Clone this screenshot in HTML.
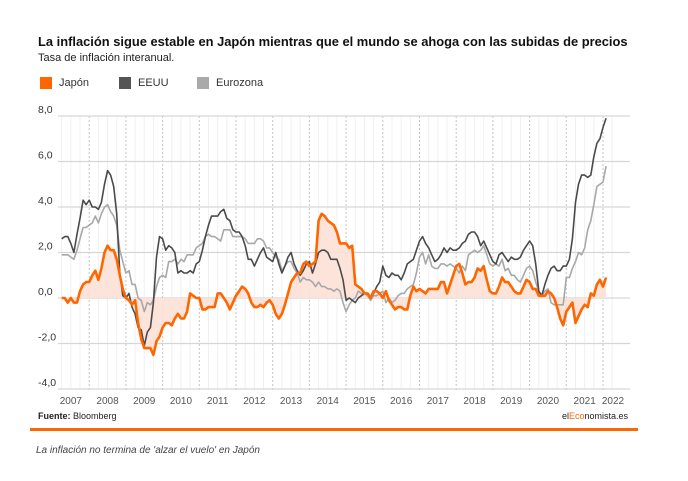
<!DOCTYPE html>
<html><head><meta charset="utf-8">
<style>
body{margin:0;background:#fff;font-family:"Liberation Sans",sans-serif;}
#wrap{position:relative;width:688px;height:481px;overflow:hidden;}
.t{position:absolute;white-space:nowrap;}
</style></head>
<body>
<div id="wrap">
<div class="t" style="left:38px;top:34px;font-size:12.9px;font-weight:bold;color:#111;">La inflación sigue estable en Japón mientras que el mundo se ahoga con las subidas de precios</div>
<div class="t" style="left:38px;top:52px;font-size:11px;color:#222;">Tasa de inflación interanual.</div>
<div>
<div class="t" style="left:40px;top:77px;width:12px;height:12px;background:#ff6600;"></div>
<div class="t" style="left:59px;top:77px;font-size:11px;color:#333;">Japón</div>
<div class="t" style="left:119px;top:77px;width:12px;height:12px;background:#555;"></div>
<div class="t" style="left:138px;top:77px;font-size:11px;color:#333;">EEUU</div>
<div class="t" style="left:197px;top:77px;width:12px;height:12px;background:#aaa;"></div>
<div class="t" style="left:216px;top:77px;font-size:11px;color:#333;">Eurozona</div>
</div>
<svg id="chart" width="688" height="481" style="position:absolute;left:0;top:0"></svg>
<div class="t" style="left:38px;top:411px;font-size:9px;color:#222;"><b>Fuente:</b> Bloomberg</div>
<div class="t" style="right:60px;top:411px;font-size:9px;color:#222;">el<span style="color:#ff6600">Eco</span>nomista.es</div>
<div class="t" style="left:30px;top:428px;width:608px;height:3px;background:#ff6600;"></div>
<div class="t" style="left:36px;top:445px;font-size:10px;font-style:italic;color:#444;">La inflación no termina de 'alzar el vuelo' en Japón</div>
</div>
<script>
const yTicks=[8,6,4,2,0,-2,-4];
const yTickLabels=["8,0","6,0","4,0","2,0","0,0","-2,0","-4,0"];
const years=[2007,2008,2009,2010,2011,2012,2013,2014,2015,2016,2017,2018,2019,2020,2021,2022];
const startMonth=3; // Apr 2007
const japon=[0.0,0.0,-0.2,0.0,-0.2,-0.2,0.3,0.6,0.7,
0.7,1.0,1.2,0.8,1.3,2.0,2.3,2.1,2.1,1.7,1.0,0.4,
0.0,-0.1,-0.3,-0.1,-1.1,-1.8,-2.2,-2.2,-2.2,-2.5,-1.9,-1.7,
-1.3,-1.1,-1.1,-1.2,-0.9,-0.7,-0.9,-0.9,-0.6,0.2,0.1,0.0,
0.0,-0.5,-0.5,-0.4,-0.4,-0.4,0.2,0.2,0.0,-0.2,-0.5,-0.2,
0.1,0.3,0.5,0.4,0.2,-0.2,-0.4,-0.4,-0.3,-0.4,-0.2,-0.1,
-0.3,-0.7,-0.9,-0.7,-0.3,0.2,0.7,0.9,1.1,1.1,1.5,1.6,
1.4,1.5,1.6,3.4,3.7,3.6,3.4,3.3,3.2,2.9,2.4,2.4,
2.4,2.2,2.3,0.6,0.5,0.4,0.2,0.2,0.0,0.3,0.3,0.2,
0.0,0.3,-0.1,-0.3,-0.5,-0.4,-0.4,-0.5,-0.5,0.1,0.5,0.3,
0.4,0.3,0.2,0.4,0.4,0.4,0.4,0.7,0.7,0.2,0.6,1.0,
1.4,1.5,1.1,0.6,0.7,0.7,0.9,1.3,1.2,1.4,0.8,0.3,
0.2,0.2,0.5,0.9,0.7,0.7,0.5,0.3,0.2,0.2,0.5,0.8,
0.7,0.4,0.4,0.1,0.1,0.1,0.3,0.2,0.0,-0.4,-0.9,-1.2,
-0.6,-0.4,-0.2,-1.1,-0.8,-0.5,-0.3,-0.4,0.2,0.1,0.6,0.8,
0.5,0.9];
const eeuu=[2.6,2.7,2.7,2.4,2.0,2.8,3.5,4.3,4.1,
4.3,4.0,4.0,3.9,4.2,5.0,5.6,5.4,4.9,3.7,1.1,0.1,
0.0,0.2,-0.4,-0.7,-1.3,-1.4,-2.1,-1.5,-1.3,-0.2,1.8,2.7,
2.6,2.1,2.3,2.2,2.0,1.1,1.2,1.1,1.1,1.2,1.1,1.5,
1.6,2.1,2.7,3.2,3.6,3.6,3.6,3.8,3.9,3.5,3.4,3.0,
2.9,2.9,2.7,2.3,1.7,1.7,1.4,1.7,2.0,2.2,1.8,1.7,
1.6,2.0,1.5,1.1,1.4,1.8,2.0,1.5,1.2,1.0,1.2,1.5,
1.6,1.1,1.5,2.0,2.1,2.1,2.0,1.7,1.7,1.7,1.3,0.8,
-0.1,0.0,-0.1,-0.2,0.0,0.1,0.2,0.2,0.0,0.2,0.5,0.7,
1.4,1.0,0.9,1.1,1.0,1.0,0.8,1.1,1.5,1.6,1.7,2.1,
2.5,2.7,2.4,2.2,1.9,1.6,1.7,1.9,2.2,2.0,2.2,2.1,
2.1,2.2,2.4,2.5,2.8,2.9,2.9,2.7,2.3,2.5,2.2,1.9,
1.6,1.5,1.9,2.0,1.8,1.6,1.8,1.7,1.7,1.8,2.1,2.3,
2.5,2.3,1.5,0.3,0.1,0.6,1.0,1.3,1.4,1.2,1.2,1.4,
1.4,1.7,2.6,4.2,5.0,5.4,5.4,5.3,5.4,6.2,6.8,7.0,
7.5,7.9];
const eurozona=[1.9,1.9,1.9,1.8,1.7,2.1,2.6,3.1,3.1,
3.2,3.3,3.6,3.3,3.7,4.0,4.1,3.8,3.6,3.2,2.1,1.6,
1.1,1.2,0.6,0.6,0.0,-0.1,-0.6,-0.2,-0.3,-0.1,0.5,0.9,
1.0,0.9,1.6,1.6,1.7,1.5,1.7,1.6,1.9,1.9,1.9,2.2,
2.3,2.4,2.7,2.8,2.7,2.7,2.6,2.5,3.0,3.0,3.0,2.7,
2.7,2.7,2.7,2.6,2.4,2.4,2.4,2.6,2.6,2.5,2.2,2.2,
2.0,1.8,1.7,1.2,1.4,1.6,1.6,1.3,1.1,0.7,0.9,0.8,
0.8,0.7,0.5,0.7,0.5,0.5,0.4,0.4,0.3,0.4,0.3,-0.2,
-0.6,-0.3,-0.1,0.0,0.3,0.2,0.2,0.1,-0.1,0.1,0.1,0.2,
0.3,-0.2,0.0,-0.2,-0.1,0.1,0.2,0.2,0.4,0.5,0.6,1.1,
1.8,2.0,1.5,1.9,1.4,1.3,1.3,1.5,1.5,1.4,1.5,1.4,
1.3,1.1,1.4,1.2,1.9,2.0,2.1,2.0,2.1,2.3,1.9,1.5,
1.4,1.5,1.4,1.7,1.2,1.3,1.0,1.0,0.8,0.7,1.0,1.3,
1.4,1.2,0.7,0.3,0.1,0.3,0.4,-0.2,-0.3,-0.3,-0.3,-0.3,
0.9,0.9,1.3,1.6,2.0,1.9,2.2,3.0,3.4,4.1,4.9,5.0,
5.1,5.8];

const NS="http://www.w3.org/2000/svg";
const svg=document.getElementById('chart');
const X0=52.5,MW=36.7/12,L=58,R=630;
const x=m=>X0+m*MW;
const y=v=>298-v*22.75;
function mk(tag,attrs){const e=document.createElementNS(NS,tag);for(const k in attrs)e.setAttribute(k,attrs[k]);svg.appendChild(e);return e;}
for(let m=3;m<=183;m+=3){
  const isYear=m%12===0;
  const l=mk('line',{x1:x(m),x2:x(m),y1:116,y2:390,stroke:isYear?'#c4c4c4':'#f0f0f0','stroke-width':1,'stroke-dasharray':isYear?'2,2':'none'});
  
  
}
yTicks.forEach((v,i)=>{
  const g=mk('line',{x1:L,x2:R,y1:y(v),y2:y(v),stroke:'#d6d6d6','stroke-width':1.2});
  
  
  const t=mk('text',{x:38,y:y(v)-3,'font-size':10.5,fill:'#333','font-family':'Liberation Sans, sans-serif'});
  t.textContent=yTickLabels[i];
  
  
});
years.forEach((yr,i)=>{
  let cx=x((yr-2007)*12+6);
  if(yr===2022)cx=613;
  const t=mk('text',{x:cx,y:404,'font-size':10,fill:'#555','text-anchor':'middle','font-family':'Liberation Sans, sans-serif'});
  t.textContent=yr;
  
  
});
function pts(arr){return arr.map((v,i)=>x(startMonth+i).toFixed(1)+','+y(v).toFixed(1));}
const jp=pts(japon);
const area=mk('polygon',{points:x(startMonth)+','+y(0)+' '+jp.join(' ')+' '+x(startMonth+japon.length-1)+','+y(0),fill:'#fde1d6',opacity:0.9});


const e1=mk('polyline',{points:pts(eurozona).join(' '),fill:'none',stroke:'#a8a8a8','stroke-width':1.6,'stroke-linejoin':'round'});


const e2=mk('polyline',{points:pts(eeuu).join(' '),fill:'none',stroke:'#4a4a4a','stroke-width':1.6,'stroke-linejoin':'round'});


const e3=mk('polyline',{points:jp.join(' '),fill:'none',stroke:'#ff6600','stroke-width':2.6,'stroke-linejoin':'round'});


</script>
</body></html>
